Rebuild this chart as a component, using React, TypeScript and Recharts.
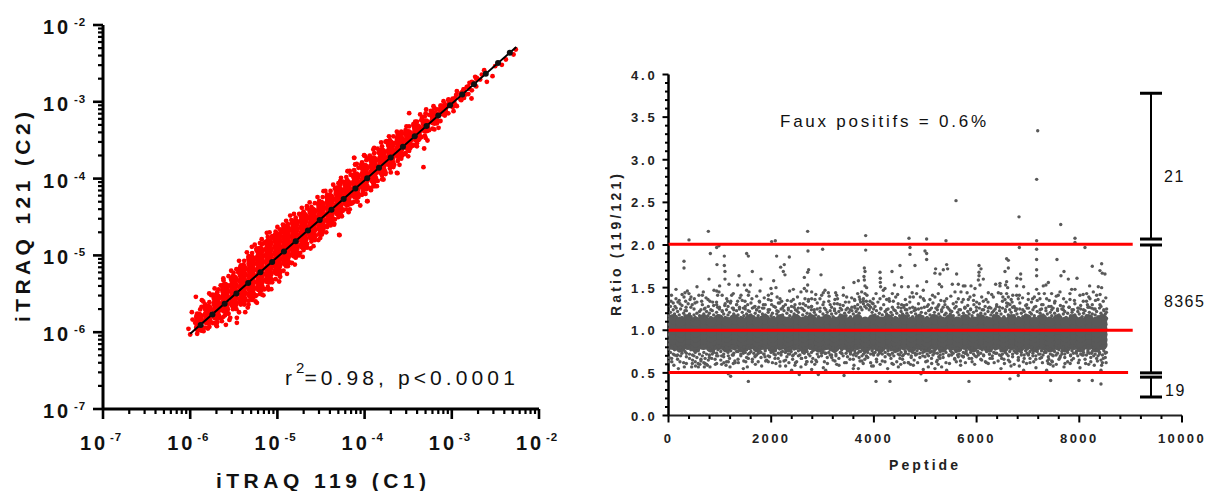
import React from "react";
import { ScatterChart, Scatter, XAxis, YAxis, ReferenceLine } from "recharts";

// ---------- Left panel: log10 intensities ----------
const logMajor = [-7, -6, -5, -4, -3, -2];
const logTicks = [
  1e-7, 2e-7, 3e-7, 4e-7, 5e-7, 6e-7, 7e-7, 8e-7, 9e-7,
  1e-6, 2e-6, 3e-6, 4e-6, 5e-6, 6e-6, 7e-6, 8e-6, 9e-6,
  1e-5, 2e-5, 3e-5, 4e-5, 5e-5, 6e-5, 7e-5, 8e-5, 9e-5,
  1e-4, 2e-4, 3e-4, 4e-4, 5e-4, 6e-4, 7e-4, 8e-4, 9e-4,
  1e-3, 2e-3, 3e-3, 4e-3, 5e-3, 6e-3, 7e-3, 8e-3, 9e-3, 1e-2,
];
const fitX = [-5.88, -5.745, -5.605, -5.47, -5.335, -5.195, -5.06, -4.925, -4.79, -4.65, -4.515, -4.38, -4.24, -4.105, -3.97, -3.835, -3.7, -3.56, -3.425, -3.29, -3.155, -3.02, -2.88, -2.745, -2.61, -2.47, -2.335];
const fitY = [-5.905, -5.77, -5.63, -5.495, -5.36, -5.22, -5.085, -4.95, -4.815, -4.675, -4.54, -4.405, -4.265, -4.13, -3.995, -3.86, -3.725, -3.585, -3.45, -3.315, -3.18, -3.045, -2.905, -2.77, -2.635, -2.495, -2.36];
const fitEnds: [number, number][] = [[-6.0, -6.02], [-2.26, -2.286]];

const denseColumns: [number, number[]][] = [
  [-5.9, [-5.94, -5.86, -5.8]],
  [-5.8, [-5.85, -5.77, -5.69]],
  [-5.7, [-5.79, -5.71, -5.63, -5.55]],
  [-5.6, [-5.7, -5.62, -5.54, -5.46, -5.41]],
  [-5.5, [-5.63, -5.55, -5.47, -5.39, -5.31]],
  [-5.4, [-5.57, -5.49, -5.41, -5.33, -5.25, -5.17]],
  [-5.3, [-5.51, -5.43, -5.35, -5.27, -5.19, -5.11, -5.05]],
  [-5.2, [-5.42, -5.34, -5.26, -5.18, -5.1, -5.02, -4.94]],
  [-5.1, [-5.32, -5.24, -5.16, -5.08, -5.0, -4.92, -4.84]],
  [-5.0, [-5.21, -5.13, -5.05, -4.97, -4.89, -4.81, -4.75]],
  [-4.9, [-5.09, -5.01, -4.93, -4.85, -4.77, -4.69, -4.65]],
  [-4.8, [-4.98, -4.9, -4.82, -4.74, -4.66, -4.58]],
  [-4.7, [-4.87, -4.79, -4.71, -4.63, -4.55, -4.49]],
  [-4.6, [-4.75, -4.67, -4.59, -4.51, -4.43]],
  [-4.5, [-4.64, -4.56, -4.48, -4.4, -4.34]],
  [-4.4, [-4.54, -4.46, -4.38, -4.3, -4.25]],
  [-4.3, [-4.43, -4.35, -4.27, -4.19, -4.15]],
  [-4.2, [-4.31, -4.23, -4.15, -4.07]],
  [-4.1, [-4.21, -4.13, -4.05, -3.97]],
  [-4.0, [-4.1, -4.02, -3.94, -3.86]],
  [-3.9, [-4.0, -3.92, -3.84, -3.76]],
  [-3.8, [-3.9, -3.82, -3.74, -3.66]],
  [-3.7, [-3.8, -3.72, -3.64, -3.56]],
  [-3.6, [-3.69, -3.61, -3.53, -3.48]],
  [-3.5, [-3.58, -3.5, -3.42]],
  [-3.4, [-3.47, -3.4, -3.34]],
  [-3.3, [-3.35, -3.28]],
  [-3.2, [-3.25, -3.18]],
  [-3.1, [-3.13, -3.09]],
  [-3.0, [-3.02]],
];

const edgePoints: [number, number][] = [
  [-5.935, -5.54], [-5.981, -5.739], [-5.973, -5.835], [-6.02, -5.956], [-6.0, -6.03], [-5.866, -5.583], [-5.782, -5.496], [-5.759, -5.518], [-5.675, -5.444], [-5.618, -5.327],
  [-5.503, -5.227], [-5.388, -5.119], [-5.293, -4.888], [-5.178, -4.858], [-5.121, -4.706], [-5.025, -4.728], [-5.847, -5.987], [-5.797, -5.952], [-5.694, -5.921], [-5.591, -5.904],
  [-5.541, -5.813], [-5.465, -5.813], [-5.465, -5.878], [-5.369, -5.739], [-5.331, -5.639], [-5.235, -5.618], [-5.178, -5.509], [-5.102, -5.444], [-4.968, -5.279], [-4.834, -5.097],
  [-4.738, -4.967], [-5.637, -5.856], [-5.713, -5.878], [-5.904, -5.921], [-5.943, -5.878], [-5.427, -5.618], [-5.254, -5.531], [-5.828, -5.639], [-5.885, -5.704], [-4.91, -4.706],
  [-4.937, -4.598], [-4.853, -4.481], [-4.662, -4.359], [-4.471, -4.164], [-4.28, -4.034], [-4.192, -3.904], [-4.108, -3.817], [-4.119, -3.73], [-4.005, -3.7], [-3.89, -3.6],
  [-3.821, -3.643], [-4.288, -4.737], [-4.349, -4.585], [-4.586, -4.88], [-4.49, -4.728], [-4.184, -4.437], [-4.05, -4.35], [-3.966, -4.294], [-3.928, -4.151], [-3.783, -4.012],
  [-3.63, -3.925], [-4.414, -4.576], [-4.509, -4.772], [-4.739, -4.468], [-4.28, -4.077], [-4.089, -4.294], [-3.859, -4.099], [-3.649, -3.535], [-3.745, -3.513],
  [-2.266, -2.319], [-2.292, -2.384], [-2.38, -2.449], [-2.426, -2.519], [-2.503, -2.536], [-2.629, -2.588], [-2.598, -2.74], [-2.533, -2.666], [-2.713, -2.688], [-2.774, -2.957],
  [-2.839, -2.905], [-2.892, -2.979], [-2.797, -2.753], [-2.942, -2.861], [-3.095, -2.992], [-3.489, -3.148], [-3.294, -3.1], [-3.607, -3.426], [-3.317, -3.608], [-3.279, -3.504],
  [-3.325, -3.851], [-3.623, -3.929], [-4.12, -3.73], [-4.005, -3.695], [-4.108, -3.816], [-4.196, -3.903], [-3.879, -4.098], [-3.928, -4.146], [-3.971, -4.294], [-4.292, -4.732],
  [-2.98, -3.122], [-3.057, -3.144], [-3.152, -3.339], [-3.21, -3.057], [-3.363, -3.165], [-2.942, -3.057], [-3.038, -2.97], [-2.866, -2.84], [-2.751, -2.753], [-2.732, -2.675],
  [-2.828, -2.805], [-2.8, -2.83], [-2.655, -2.645], [-2.675, -2.71], [-2.9, -2.92], [-2.96, -2.95], [-2.88, -2.87], [-3.0, -3.0], [-3.05, -3.06], [-3.12, -3.05],
  [-5.58, -5.39], [-5.45, -5.22], [-5.33, -5.03], [-5.24, -4.93], [-5.06, -4.77], [-4.96, -4.7], [-4.78, -4.55], [-4.61, -4.42], [-4.52, -4.34], [-4.42, -4.22],
  [-4.33, -4.12], [-4.2, -4.02], [-4.04, -3.82], [-3.96, -3.74], [-3.84, -3.66], [-3.7, -3.52], [-3.56, -3.41], [-3.44, -3.29], [-3.34, -3.2], [-3.24, -3.12],
  [-5.62, -5.8], [-5.38, -5.62], [-5.28, -5.55], [-5.15, -5.44], [-5.06, -5.32], [-4.9, -5.14], [-4.76, -4.98], [-4.66, -4.85], [-4.56, -4.74], [-4.44, -4.62],
  [-4.36, -4.52], [-4.25, -4.4], [-4.14, -4.32], [-4.02, -4.17], [-3.9, -4.06], [-3.76, -3.92], [-3.66, -3.82], [-3.54, -3.68], [-3.44, -3.56], [-3.36, -3.45],
  [-5.85, -5.6], [-5.72, -5.43], [-5.62, -5.3], [-5.53, -5.2], [-5.44, -5.07], [-5.35, -4.96], [-5.26, -4.86], [-5.18, -4.79], [-5.09, -4.7], [-5.0, -4.63], [-4.9, -4.55], [-4.81, -4.46], [-4.72, -4.38], [-4.63, -4.31], [-4.54, -4.24],
  [-4.45, -4.16], [-4.36, -4.08], [-4.27, -3.99], [-4.17, -3.9], [-4.09, -3.81], [-3.99, -3.71], [-3.9, -3.62], [-3.81, -3.53], [-3.72, -3.45], [-3.63, -3.39], [-3.52, -3.32], [-3.42, -3.26], [-3.3, -3.15], [-3.2, -3.08],
  [-5.7, -5.91], [-5.55, -5.84], [-5.44, -5.74], [-5.34, -5.68], [-5.25, -5.6], [-5.16, -5.52], [-5.07, -5.44], [-4.98, -5.34], [-4.89, -5.24], [-4.8, -5.12], [-4.71, -5.02], [-4.62, -4.91], [-4.53, -4.8], [-4.44, -4.7],
  [-4.35, -4.6], [-4.26, -4.49], [-4.17, -4.4], [-4.08, -4.3], [-3.99, -4.2], [-3.9, -4.1], [-3.8, -4.01], [-3.7, -3.92], [-3.6, -3.82], [-3.5, -3.71], [-3.4, -3.58], [-3.3, -3.47], [-3.2, -3.36],
];

// x, upper edge of the cloud, lower edge of the cloud at that x
const edgeOutline: [number, number, number][] = [
  [-5.92, -5.76, -6.02], [-5.87, -5.67, -5.98], [-5.83, -5.65, -5.94], [-5.78, -5.61, -5.93], [-5.74, -5.51, -5.88], [-5.69, -5.48, -5.87], [-5.65, -5.39, -5.82], [-5.6, -5.37, -5.78],
  [-5.56, -5.27, -5.76], [-5.51, -5.27, -5.7], [-5.47, -5.18, -5.7], [-5.42, -5.13, -5.64], [-5.38, -5.07, -5.64], [-5.33, -5.01, -5.59], [-5.29, -4.97, -5.58], [-5.24, -4.91, -5.52],
  [-5.2, -4.84, -5.5], [-5.15, -4.83, -5.44], [-5.11, -4.76, -5.41], [-5.06, -4.75, -5.35], [-5.02, -4.69, -5.31], [-4.97, -4.66, -5.23], [-4.93, -4.61, -5.2], [-4.88, -4.59, -5.14],
  [-4.84, -4.54, -5.1], [-4.79, -4.51, -5.03], [-4.75, -4.46, -5.0], [-4.7, -4.43, -4.93], [-4.66, -4.39, -4.9], [-4.61, -4.37, -4.82], [-4.57, -4.32, -4.8], [-4.52, -4.29, -4.72],
  [-4.48, -4.24, -4.7], [-4.43, -4.21, -4.63], [-4.39, -4.16, -4.61], [-4.34, -4.13, -4.53], [-4.3, -4.06, -4.5], [-4.25, -4.04, -4.42], [-4.21, -3.98, -4.4], [-4.16, -3.95, -4.33],
  [-4.12, -3.89, -4.3], [-4.07, -3.86, -4.24], [-4.03, -3.79, -4.21], [-3.98, -3.76, -4.14], [-3.94, -3.7, -4.12], [-3.89, -3.67, -4.05], [-3.85, -3.61, -4.03], [-3.8, -3.58, -3.96],
  [-3.76, -3.52, -3.94], [-3.71, -3.5, -3.87], [-3.67, -3.45, -3.85], [-3.62, -3.43, -3.77], [-3.58, -3.39, -3.74], [-3.53, -3.37, -3.67], [-3.49, -3.32, -3.64], [-3.44, -3.31, -3.57],
  [-3.4, -3.26, -3.54], [-3.35, -3.24, -3.46], [-3.31, -3.19, -3.44], [-3.26, -3.17, -3.37], [-3.22, -3.12, -3.35], [-3.17, -3.1, -3.28], [-3.13, -3.05, -3.25], [-3.08, -3.03, -3.18],
  [-3.04, -2.98, -3.15], [-2.99, -2.96, -3.07], [-2.95, -2.91, -3.05], [-2.9, -2.89, -2.97], [-2.86, -2.84, -2.95], [-2.81, -2.8, -2.9], [-2.77, -2.74, -2.85], [-2.72, -2.7, -2.8],
];

// ---------- Right panel: peptide ratios ----------
const ratioMajor = [0, 0.5, 1, 1.5, 2, 2.5, 3, 3.5, 4];
const ratioTicks = [0, 0.1, 0.2, 0.3, 0.4, 0.5, 0.6, 0.7, 0.8, 0.9, 1, 1.1, 1.2, 1.3, 1.4, 1.5, 1.6, 1.7, 1.8, 1.9, 2, 2.1, 2.2, 2.3, 2.4, 2.5, 2.6, 2.7, 2.8, 2.9, 3, 3.1, 3.2, 3.3, 3.4, 3.5, 3.6, 3.7, 3.8, 3.9, 4];
const peptideMajor = [0, 2000, 4000, 6000, 8000, 10000];
const peptideTicks = [0, 400, 800, 1200, 1600, 2000, 2400, 2800, 3200, 3600, 4000, 4400, 4800, 5200, 5600, 6000, 6400, 6800, 7200, 7600, 8000, 8400, 8800, 9200, 9600, 10000];

const ratioColumnsA = [90, 380, 680, 980, 1280, 1580, 1880, 2180, 2480, 2780, 3080, 3380, 3680, 3980, 4280, 4580, 4880, 5180, 5480, 5780, 6080, 6380, 6680, 6980, 7280, 7580, 7880, 8180, 8450];
const ratioColumnsB = [230, 530, 830, 1130, 1430, 1730, 2030, 2330, 2630, 2930, 3230, 3530, 3830, 4130, 4430, 4730, 5030, 5330, 5630, 5930, 6230, 6530, 6830, 7130, 7430, 7730, 8030, 8330];
const ratioRowsA = [0.83, 0.89, 0.95, 1.01, 1.07, 1.13];
const ratioRowsB = [0.8, 0.86, 0.92, 0.98, 1.04, 1.1];

// peptide, lower-fringe ratio, upper-fringe ratio, further outlying ratio
const ratioFringe: [number, number, number, number][] = [
  [12, 0.78, 1.17, 0.68], [38, 0.74, 1.21, 1.28], [65, 0.8, 1.14, 0.63], [92, 0.72, 1.24, 1.32], [118, 0.77, 1.19, 0.71], [151, 0.79, 1.16, 1.26], [177, 0.71, 1.22, 0.66], [209, 0.76, 1.18, 1.35],
  [236, 0.8, 1.25, 0.7], [262, 0.73, 1.15, 1.29], [295, 0.78, 1.2, 0.62], [321, 0.75, 1.17, 1.23], [348, 0.69, 1.23, 0.73], [383, 0.8, 1.14, 1.31], [409, 0.72, 1.19, 0.67], [436, 0.77, 1.16, 1.27],
  [468, 0.65, 1.12, 0.71], [497, 0.7, 1.18, 1.25], [521, 0.63, 1.15, 0.74], [553, 0.68, 1.2, 1.33], [578, 0.61, 1.13, 0.76], [604, 0.72, 1.17, 1.22], [632, 0.66, 1.24, 0.64], [659, 0.7, 1.16, 1.3],
  [688, 0.62, 1.19, 0.74], [713, 0.67, 1.14, 1.26], [741, 0.72, 1.22, 0.6], [769, 0.78, 1.17, 1.36], [796, 0.71, 1.2, 0.68], [824, 0.76, 1.15, 1.24], [853, 0.8, 1.23, 0.72], [880, 0.74, 1.18, 1.29],
  [907, 0.79, 1.14, 0.66], [936, 0.73, 1.21, 1.33], [963, 0.77, 1.17, 0.7], [991, 0.81, 1.25, 1.27], [1018, 0.75, 1.16, 0.65], [1046, 0.79, 1.22, 1.23], [1075, 0.72, 1.19, 0.69], [1104, 0.78, 1.15, 1.31],
  [1131, 0.8, 1.24, 0.63], [1159, 0.74, 1.18, 1.28], [1188, 0.79, 1.21, 0.67], [1213, 0.76, 1.14, 1.34], [1242, 0.81, 1.26, 0.71], [1271, 0.73, 1.19, 1.24], [1297, 0.78, 1.16, 0.62], [1326, 0.8, 1.23, 1.3],
  [1354, 0.75, 1.18, 0.66], [1383, 0.79, 1.27, 1.25], [1409, 0.72, 1.15, 0.7], [1437, 0.78, 1.21, 1.35], [1466, 0.8, 1.17, 0.64], [1494, 0.74, 1.25, 1.28], [1521, 0.77, 1.19, 0.68], [1552, 0.72, 1.14, 1.23],
  [1578, 0.79, 1.22, 0.73], [1606, 0.75, 1.18, 1.32], [1633, 0.81, 1.26, 0.66], [1661, 0.73, 1.16, 1.27], [1689, 0.78, 1.2, 0.7], [1717, 0.71, 1.24, 1.24], [1746, 0.77, 1.17, 0.63], [1774, 0.8, 1.22, 1.33],
  [1802, 0.74, 1.15, 0.68], [1829, 0.79, 1.19, 1.26], [1858, 0.72, 1.26, 0.72], [1884, 0.76, 1.18, 1.3], [1913, 0.8, 1.14, 0.65], [1941, 0.7, 1.21, 1.24], [1969, 0.77, 1.24, 0.69], [1998, 0.74, 1.17, 1.35],
  [2024, 0.79, 1.2, 0.62], [2053, 0.72, 1.15, 1.28], [2081, 0.76, 1.27, 0.71], [2109, 0.8, 1.19, 1.23], [2137, 0.73, 1.22, 0.67], [2166, 0.78, 1.16, 1.32], [2192, 0.71, 1.25, 0.74], [2221, 0.75, 1.18, 1.26],
  [2249, 0.8, 1.23, 0.64], [2277, 0.74, 1.14, 1.3], [2305, 0.77, 1.2, 0.69], [2334, 0.72, 1.26, 1.24], [2362, 0.79, 1.17, 0.72], [2389, 0.75, 1.22, 1.34], [2418, 0.7, 1.15, 0.66], [2446, 0.78, 1.19, 1.27],
  [2473, 0.73, 1.24, 0.62], [2502, 0.8, 1.17, 1.23], [2530, 0.76, 1.21, 0.7], [2558, 0.71, 1.14, 1.31], [2586, 0.78, 1.26, 0.67], [2614, 0.74, 1.18, 1.25], [2643, 0.79, 1.23, 0.73], [2671, 0.68, 1.16, 1.29],
  [2698, 0.75, 1.2, 0.63], [2727, 0.72, 1.27, 1.36], [2755, 0.79, 1.19, 0.7], [2783, 0.74, 1.24, 1.28], [2811, 0.67, 1.15, 0.76], [2839, 0.77, 1.21, 1.24], [2868, 0.8, 1.18, 0.65], [2896, 0.72, 1.25, 1.32],
  [2923, 0.76, 1.16, 0.69], [2951, 0.79, 1.22, 1.26], [2980, 0.7, 1.14, 0.73], [3008, 0.75, 1.19, 1.3], [3036, 0.78, 1.26, 0.63], [3064, 0.73, 1.17, 1.24], [3092, 0.8, 1.21, 0.68], [3121, 0.74, 1.15, 1.34],
  [3148, 0.77, 1.23, 0.71], [3176, 0.71, 1.19, 1.27], [3205, 0.79, 1.16, 0.65], [3233, 0.75, 1.25, 1.23], [3261, 0.72, 1.2, 0.7], [3289, 0.78, 1.14, 1.31], [3318, 0.8, 1.22, 0.67], [3345, 0.74, 1.18, 1.26],
  [3373, 0.77, 1.24, 0.73], [3402, 0.7, 1.15, 1.29], [3430, 0.79, 1.2, 0.62], [3458, 0.73, 1.17, 1.24], [3486, 0.76, 1.26, 0.69], [3514, 0.8, 1.21, 1.33], [3543, 0.74, 1.16, 0.72], [3571, 0.78, 1.23, 1.27],
  [3599, 0.71, 1.19, 0.66], [3627, 0.76, 1.28, 1.35], [3655, 0.79, 1.22, 0.7], [3684, 0.73, 1.25, 1.3], [3712, 0.68, 1.2, 0.75], [3740, 0.75, 1.27, 1.33], [3768, 0.7, 1.24, 0.64], [3796, 0.72, 1.31, 1.37],
  [3824, 0.66, 1.28, 0.74], [3853, 0.7, 1.26, 1.34], [3881, 0.74, 1.3, 0.68], [3909, 0.78, 1.24, 1.29], [3937, 0.72, 1.27, 0.62], [3965, 0.76, 1.21, 1.32], [3994, 0.8, 1.25, 0.71], [4022, 0.74, 1.18, 1.28],
  [4050, 0.77, 1.23, 0.66], [4078, 0.71, 1.16, 1.33], [4106, 0.79, 1.2, 0.73], [4135, 0.75, 1.26, 1.25], [4163, 0.72, 1.18, 0.64], [4191, 0.78, 1.14, 1.3], [4219, 0.74, 1.22, 0.69], [4247, 0.8, 1.19, 1.24],
  [4276, 0.76, 1.25, 0.72], [4304, 0.71, 1.16, 1.34], [4332, 0.77, 1.21, 0.67], [4360, 0.73, 1.18, 1.27], [4388, 0.79, 1.24, 0.7], [4417, 0.75, 1.15, 1.23], [4445, 0.8, 1.2, 0.63], [4473, 0.72, 1.27, 1.31],
  [4501, 0.77, 1.17, 0.71], [4529, 0.74, 1.22, 1.26], [4558, 0.7, 1.19, 0.66], [4586, 0.78, 1.15, 1.29], [4614, 0.75, 1.24, 0.73], [4642, 0.79, 1.2, 1.24], [4671, 0.72, 1.17, 0.62], [4699, 0.76, 1.26, 1.33],
  [4727, 0.68, 1.21, 0.7], [4755, 0.74, 1.16, 1.27], [4783, 0.78, 1.23, 0.65], [4812, 0.71, 1.19, 1.24], [4840, 0.76, 1.14, 0.72], [4868, 0.8, 1.25, 1.31], [4896, 0.73, 1.18, 0.68], [4924, 0.77, 1.21, 1.26],
  [4953, 0.7, 1.16, 0.74], [4981, 0.75, 1.27, 1.35], [5009, 0.79, 1.2, 0.63], [5037, 0.72, 1.15, 1.28], [5065, 0.77, 1.23, 0.7], [5094, 0.74, 1.18, 1.24], [5122, 0.8, 1.26, 0.67], [5150, 0.71, 1.17, 1.32],
  [5178, 0.76, 1.21, 0.73], [5206, 0.78, 1.14, 1.26], [5235, 0.73, 1.24, 0.65], [5263, 0.69, 1.19, 1.3], [5291, 0.75, 1.16, 0.71], [5319, 0.79, 1.22, 1.24], [5348, 0.72, 1.27, 0.68], [5376, 0.77, 1.18, 1.34],
  [5404, 0.74, 1.2, 0.62], [5432, 0.8, 1.15, 1.27], [5460, 0.71, 1.25, 0.7], [5489, 0.76, 1.19, 1.23], [5517, 0.78, 1.22, 0.74], [5545, 0.73, 1.17, 1.31], [5573, 0.67, 1.26, 0.66], [5601, 0.75, 1.14, 1.28],
  [5630, 0.79, 1.21, 0.71], [5658, 0.72, 1.18, 1.24], [5686, 0.77, 1.24, 0.64], [5714, 0.7, 1.16, 1.33], [5742, 0.74, 1.2, 0.69], [5771, 0.8, 1.27, 1.26], [5799, 0.76, 1.15, 0.73], [5827, 0.71, 1.22, 1.29],
  [5855, 0.78, 1.19, 0.67], [5883, 0.74, 1.25, 1.24], [5912, 0.79, 1.17, 0.63], [5940, 0.72, 1.21, 1.35], [5968, 0.77, 1.14, 0.7], [5996, 0.69, 1.23, 1.27], [6024, 0.75, 1.18, 0.74], [6053, 0.8, 1.26, 1.31],
  [6081, 0.73, 1.2, 0.66], [6109, 0.77, 1.16, 1.24], [6137, 0.71, 1.24, 0.7], [6165, 0.78, 1.19, 1.28], [6194, 0.75, 1.15, 0.62], [6222, 0.79, 1.22, 1.33], [6250, 0.72, 1.27, 0.72], [6278, 0.76, 1.18, 1.26],
  [6306, 0.7, 1.21, 0.67], [6335, 0.74, 1.17, 1.23], [6363, 0.78, 1.25, 0.73], [6391, 0.73, 1.2, 1.3], [6419, 0.8, 1.14, 0.64], [6447, 0.71, 1.23, 1.27], [6476, 0.76, 1.19, 0.7], [6504, 0.72, 1.26, 1.34],
  [6532, 0.77, 1.16, 0.66], [6560, 0.74, 1.22, 1.24], [6589, 0.79, 1.28, 0.72], [6617, 0.7, 1.18, 1.31], [6645, 0.75, 1.24, 0.63], [6673, 0.78, 1.21, 1.36], [6701, 0.72, 1.27, 0.69], [6730, 0.76, 1.17, 1.28],
  [6758, 0.8, 1.23, 0.74], [6786, 0.73, 1.19, 1.25], [6814, 0.68, 1.15, 0.65], [6842, 0.77, 1.25, 1.32], [6871, 0.74, 1.2, 0.71], [6899, 0.79, 1.16, 1.24], [6927, 0.71, 1.22, 0.67], [6955, 0.76, 1.18, 1.29],
  [6983, 0.78, 1.26, 0.73], [7012, 0.72, 1.14, 1.26], [7040, 0.75, 1.21, 0.62], [7068, 0.8, 1.19, 1.33], [7096, 0.73, 1.24, 0.7], [7124, 0.77, 1.17, 1.27], [7153, 0.7, 1.28, 0.66], [7181, 0.75, 1.22, 1.35],
  [7209, 0.79, 1.16, 0.72], [7237, 0.72, 1.2, 1.24], [7265, 0.76, 1.25, 0.68], [7294, 0.71, 1.18, 1.3], [7322, 0.78, 1.15, 0.74], [7350, 0.74, 1.23, 1.26], [7378, 0.8, 1.19, 0.64], [7406, 0.66, 1.14, 1.28],
  [7435, 0.72, 1.21, 0.6], [7463, 0.64, 1.17, 1.24], [7491, 0.7, 1.26, 0.58], [7519, 0.75, 1.2, 1.32], [7548, 0.79, 1.16, 0.71], [7576, 0.73, 1.23, 1.25], [7604, 0.77, 1.18, 0.66], [7632, 0.7, 1.14, 1.29],
  [7660, 0.75, 1.25, 0.72], [7689, 0.8, 1.19, 1.24], [7717, 0.72, 1.22, 0.68], [7745, 0.77, 1.15, 1.33], [7773, 0.74, 1.2, 0.63], [7801, 0.78, 1.27, 1.27], [7830, 0.71, 1.17, 0.7], [7858, 0.76, 1.21, 1.24],
  [7886, 0.73, 1.24, 0.67], [7914, 0.79, 1.18, 1.31], [7942, 0.75, 1.14, 0.73], [7971, 0.7, 1.22, 1.26], [7999, 0.77, 1.19, 0.65], [8027, 0.72, 1.25, 1.29], [8055, 0.78, 1.16, 0.71], [8083, 0.74, 1.2, 1.24],
  [8112, 0.8, 1.23, 0.66], [8140, 0.71, 1.17, 1.34], [8168, 0.76, 1.27, 0.74], [8196, 0.73, 1.21, 1.27], [8224, 0.68, 1.15, 0.63], [8253, 0.75, 1.19, 1.3], [8281, 0.79, 1.25, 0.7], [8309, 0.72, 1.18, 1.25],
  [8337, 0.77, 1.22, 0.67], [8365, 0.7, 1.16, 1.36], [8394, 0.74, 1.26, 0.72], [8422, 0.65, 1.2, 1.28], [8450, 0.71, 1.17, 0.62], [8478, 0.76, 1.23, 1.24], [8506, 0.68, 1.19, 0.73], [8528, 0.74, 1.14, 1.21],
];

const ratioUpper: [number, number][] = [
  [7190, 3.34], [7170, 2.77], [5599, 2.52], [6826, 2.33], [7638, 2.24],
  [776, 2.16], [399, 2.06], [2009, 2.04], [2080, 2.05], [2710, 2.16], [938, 1.97], [983, 1.99], [815, 1.9], [1087, 1.87], [1522, 1.9], [1555, 1.87], [2106, 1.87], [2353, 1.86], [2716, 1.93], [302, 1.81],
  [302, 1.73], [944, 1.77], [1087, 1.76], [1100, 1.69], [789, 1.6], [1100, 1.6], [1373, 1.64], [1632, 1.69], [2184, 1.74], [2255, 1.77], [2236, 1.69], [2268, 1.65], [2729, 1.71], [2710, 1.68], [2645, 1.62], [1801, 1.6],
  [2048, 1.58], [1178, 1.54], [1347, 1.53], [1477, 1.53], [1593, 1.53], [996, 1.52], [555, 1.51], [146, 1.48], [367, 1.46], [321, 1.44], [399, 1.43], [678, 1.45], [659, 1.41], [886, 1.47], [938, 1.46], [983, 1.45],
  [957, 1.41], [1522, 1.47], [1567, 1.45], [1555, 1.41], [1782, 1.46], [1996, 1.49], [2093, 1.5], [2359, 1.46], [2431, 1.48], [2580, 1.45], [2645, 1.49], [2690, 1.46], [2788, 1.45], [2710, 1.53], [1717, 1.4], [1262, 1.43],
  [1230, 1.41], [1392, 1.38], [1944, 1.41], [2009, 1.43], [2171, 1.37], [2204, 1.34], [49, 1.34], [146, 1.37], [302, 1.39], [438, 1.39], [334, 1.34], [419, 1.36], [503, 1.37], [224, 1.31], [127, 1.28], [516, 1.32],
  [646, 1.34], [808, 1.34], [776, 1.28], [938, 1.3], [957, 1.27], [698, 1.25], [1133, 1.37], [1152, 1.34], [1347, 1.34], [1327, 1.3], [1490, 1.34], [1542, 1.3], [1769, 1.34], [1944, 1.36], [2009, 1.3], [2139, 1.32],
  [2431, 1.36], [2463, 1.3], [2658, 1.37], [2723, 1.34], [2788, 1.37], [1684, 1.28], [1847, 1.3], [1262, 1.26], [1457, 1.26], [2236, 1.28], [2528, 1.26], [2788, 1.28],
  [3840, 2.11], [4683, 2.08], [5027, 2.07], [5404, 2.05], [3002, 1.95], [3840, 1.94], [4703, 1.97], [4703, 1.89], [4995, 1.93], [5027, 1.9], [5027, 1.83], [3814, 1.73], [3827, 1.69], [3807, 1.63], [4508, 1.76], [4800, 1.76],
  [5417, 1.77], [5352, 1.71], [5436, 1.72], [5202, 1.72], [5189, 1.67], [5287, 1.66], [5611, 1.66], [2970, 1.65], [4119, 1.68], [4352, 1.69], [4125, 1.61], [4540, 1.62], [3697, 1.58], [3612, 1.56], [4125, 1.56], [3814, 1.59],
  [5027, 1.57], [5527, 1.54], [5644, 1.54], [3405, 1.5], [3827, 1.52], [3859, 1.5], [4398, 1.53], [4540, 1.51], [4670, 1.51], [4845, 1.52], [5274, 1.54], [5319, 1.51], [5741, 1.52], [3048, 1.47], [3015, 1.44], [2983, 1.41],
  [3113, 1.44], [3255, 1.44], [3275, 1.41], [3405, 1.41], [3470, 1.39], [3567, 1.38], [3684, 1.43], [3762, 1.45], [3827, 1.43], [4131, 1.51], [4183, 1.47], [4216, 1.49], [4359, 1.43], [4463, 1.42], [4962, 1.47], [4832, 1.43],
  [5254, 1.43], [5189, 1.39], [5579, 1.45], [5696, 1.45], [2853, 1.36], [2950, 1.37], [3242, 1.36], [3229, 1.31], [3340, 1.3], [3534, 1.24], [3632, 1.26], [3729, 1.36], [3794, 1.34], [3924, 1.34], [3989, 1.37], [4119, 1.37],
  [4248, 1.36], [4378, 1.34], [4540, 1.3], [4638, 1.3], [4703, 1.39], [4768, 1.39], [4962, 1.37], [5092, 1.36], [5417, 1.37], [5644, 1.37], [5741, 1.36], [5060, 1.3], [4800, 1.26], [5384, 1.3],
  [7916, 2.08], [7169, 2.05], [7916, 2.03], [6832, 1.97], [8110, 1.97], [7169, 1.95], [6585, 1.84], [6618, 1.82], [7169, 1.83], [7565, 1.83], [6047, 1.76], [6086, 1.72], [6047, 1.68], [6047, 1.64], [8253, 1.75], [8435, 1.78],
  [8402, 1.7], [8448, 1.67], [8500, 1.66], [6618, 1.73], [6553, 1.69], [7169, 1.71], [7169, 1.64], [6858, 1.66], [6786, 1.61], [6858, 1.6], [7643, 1.64], [7702, 1.69], [7786, 1.6], [7955, 1.61], [6034, 1.59], [6131, 1.6],
  [6585, 1.57], [6566, 1.53], [6371, 1.54], [6455, 1.55], [6455, 1.52], [6780, 1.52], [6916, 1.51], [7397, 1.56], [7299, 1.52], [7351, 1.53], [8201, 1.52], [8370, 1.51], [8435, 1.5], [5891, 1.52], [5774, 1.52], [5969, 1.49],
  [6066, 1.53], [6228, 1.44], [7169, 1.48], [6605, 1.5], [6423, 1.44], [6475, 1.43], [6585, 1.43], [6618, 1.39], [6326, 1.39], [7007, 1.43], [6780, 1.41], [6832, 1.41], [7091, 1.37], [7319, 1.43], [7461, 1.43], [7624, 1.45],
  [7591, 1.41], [7851, 1.48], [7916, 1.48], [7818, 1.43], [8013, 1.41], [8143, 1.43], [8273, 1.45], [8338, 1.41], [5871, 1.39], [5839, 1.36], [6001, 1.33], [6099, 1.39], [6131, 1.34], [6553, 1.36], [6585, 1.32], [6650, 1.3],
  [6812, 1.37], [7007, 1.36], [7234, 1.37], [7364, 1.37], [7526, 1.34], [7818, 1.36], [8078, 1.34], [8208, 1.37], [8467, 1.34], [8402, 1.3], [5774, 1.26], [6228, 1.26], [6391, 1.28], [6748, 1.26], [6975, 1.3], [7267, 1.3],
  [7689, 1.28], [7981, 1.26], [8532, 1.25], [8240, 1.26],
  [58, 1.41], [183, 1.33], [265, 1.42], [462, 1.3], [592, 1.41], [731, 1.38], [860, 1.33], [1045, 1.41], [1205, 1.32], [1412, 1.41], [1625, 1.37], [1865, 1.38], [2115, 1.39], [2315, 1.35], [2512, 1.39], [2625, 1.31],
  [2868, 1.42], [3025, 1.33], [3128, 1.4], [3292, 1.37], [3445, 1.33], [3622, 1.36], [3715, 1.39], [3865, 1.41], [4042, 1.43], [4188, 1.4], [4295, 1.37], [4425, 1.39], [4612, 1.36], [4745, 1.44], [4905, 1.39], [5142, 1.41],
  [5305, 1.35], [5498, 1.4], [5605, 1.33], [5815, 1.44], [5948, 1.41], [6185, 1.36], [6294, 1.42], [6512, 1.39], [6705, 1.41], [6895, 1.38], [7125, 1.39], [7212, 1.43], [7415, 1.35], [7552, 1.4], [7695, 1.37], [7905, 1.35],
  [8075, 1.42], [8185, 1.39], [8315, 1.35], [8405, 1.42], [8516, 1.38], [342, 1.27], [1095, 1.29], [1758, 1.27], [2395, 1.28], [3148, 1.3], [3985, 1.31], [4582, 1.27], [5245, 1.28], [5948, 1.3], [6692, 1.33], [7452, 1.28], [8158, 1.3],
];

const ratioLower: [number, number][] = [
  [1555, 0.4], [1210, 0.46], [1165, 0.49], [2547, 0.48], [2788, 0.54], [2580, 0.57], [2398, 0.53], [2171, 0.58], [2281, 0.58], [192, 0.55], [308, 0.57], [451, 0.57], [464, 0.61], [581, 0.57], [711, 0.61], [698, 0.57],
  [808, 0.57], [938, 0.61], [1035, 0.6], [1120, 0.59], [1198, 0.57], [1262, 0.61], [1360, 0.62], [1457, 0.55], [1535, 0.57], [1814, 0.58], [1944, 0.63], [2074, 0.67], [2041, 0.75], [1879, 0.69], [1749, 0.73], [2171, 0.63],
  [2281, 0.65], [2496, 0.63], [2593, 0.67], [2690, 0.63], [2788, 0.63], [2658, 0.75], [2431, 0.71], [938, 0.7], [1035, 0.7], [1165, 0.7], [1262, 0.71], [1327, 0.75], [1457, 0.73], [1555, 0.67], [1632, 0.63], [1684, 0.69],
  [841, 0.67], [873, 0.75], [776, 0.65], [62, 0.67], [159, 0.7], [224, 0.63], [10, 0.63], [1165, 0.63],
  [2918, 0.48], [3418, 0.47], [4041, 0.4], [4313, 0.4], [5014, 0.41], [4917, 0.49], [3015, 0.56], [3061, 0.53], [3599, 0.55], [3697, 0.55], [3320, 0.59], [3956, 0.58], [3989, 0.58], [4268, 0.55], [4378, 0.6], [4476, 0.57],
  [4592, 0.62], [4670, 0.62], [4768, 0.59], [4962, 0.54], [5060, 0.57], [5125, 0.61], [5222, 0.63], [5319, 0.57], [5417, 0.53], [5189, 0.55], [5689, 0.59], [3242, 0.64], [3178, 0.68], [3534, 0.66], [3729, 0.64], [3859, 0.69],
  [3989, 0.73], [4054, 0.63], [4216, 0.63], [4508, 0.67], [4573, 0.71], [4995, 0.69], [5287, 0.67], [5514, 0.71], [5644, 0.69], [5741, 0.69], [2885, 0.63], [3632, 0.73], [3372, 0.73], [3048, 0.73], [4313, 0.71], [4800, 0.73],
  [5125, 0.75], [5384, 0.77],
  [5852, 0.4], [6650, 0.43], [6812, 0.47], [7442, 0.41], [7994, 0.41], [8253, 0.41], [8422, 0.37], [6916, 0.53], [6475, 0.55], [6670, 0.58], [6832, 0.58], [7156, 0.56], [7364, 0.53], [7702, 0.57], [8013, 0.56], [8123, 0.61],
  [8292, 0.59], [8435, 0.59], [8422, 0.53], [7397, 0.61], [7475, 0.63], [7397, 0.69], [7475, 0.71], [6228, 0.61], [6099, 0.65], [6261, 0.67], [6488, 0.67], [6618, 0.65], [6812, 0.65], [7040, 0.67], [7234, 0.67], [7624, 0.68],
  [7851, 0.65], [8078, 0.71], [8240, 0.73], [8467, 0.67], [5904, 0.67], [6034, 0.71], [6910, 0.63], [7007, 0.71], [7721, 0.61], [7332, 0.75], [7494, 0.77], [5774, 0.73],
  [105, 0.59], [348, 0.61], [525, 0.58], [612, 0.6], [758, 0.59], [912, 0.6], [1078, 0.62], [1292, 0.64], [1505, 0.63], [1692, 0.6], [1892, 0.64], [2092, 0.61], [2345, 0.62], [2462, 0.59], [2672, 0.6], [2848, 0.6],
  [3095, 0.61], [3275, 0.6], [3462, 0.62], [3612, 0.59], [3792, 0.61], [4122, 0.6], [4352, 0.61], [4522, 0.6], [4712, 0.6], [4852, 0.62], [5042, 0.64], [5252, 0.6], [5472, 0.61], [5605, 0.63], [5782, 0.62], [5962, 0.6],
  [6172, 0.63], [6342, 0.62], [6542, 0.61], [6732, 0.6], [6972, 0.61], [7112, 0.63], [7282, 0.62], [7552, 0.6], [7822, 0.61], [7982, 0.62], [8182, 0.6], [8352, 0.64], [8522, 0.62],
];

const cutoffLines: [number, number][] = [[2.01, 9040], [1.0, 9040], [0.505, 8950]];
const bracketX = 9396;
const bracketCapX: [number, number] = [9182, 9611];
const bracketSpans: [number, number][] = [[3.78, 2.07], [2.0, 0.5], [0.45, 0.217]];
const bracketCaps = [3.78, 2.07, 2.0, 0.5, 0.45, 0.217];

// ---------- Build rows ----------
const logRow = ([a, b]: [number, number]) => ({ x: 10 ** a, y: 10 ** b });
const xyRow = ([x, y]: [number, number]) => ({ x, y });
const denseRows = denseColumns.flatMap(([a, ys]) => ys.map((b) => logRow([a, b])));
const edgeRows = [
  ...edgePoints.map(logRow),
  ...edgeOutline.flatMap(([a, up, lo]) => [logRow([a, up]), logRow([a, lo])]),
];
const fitRows = fitX.map((a, i) => logRow([a, fitY[i]]));
const fitEndRows = fitEnds.map(logRow);
const ratioDenseRows = [
  ...ratioColumnsA.flatMap((x) => ratioRowsA.map((y) => ({ x, y }))),
  ...ratioColumnsB.flatMap((x) => ratioRowsB.map((y) => ({ x, y }))),
];
const ratioRows = [
  ...ratioUpper.map(xyRow),
  ...ratioLower.map(xyRow),
  ...ratioFringe.flatMap(([x, lo, hi, far]) => [{ x, y: lo }, { x, y: hi }, { x, y: far }]),
];

// ---------- Style ----------
const FONT = "'Liberation Sans', Arial, sans-serif";
const dot = (r: number, fill: string) => (p: any) => <circle cx={p.cx} cy={p.cy} r={r} fill={fill} />;
const noDot = () => <g />;

const exponent = (v: number) => Math.round(Math.log10(v));
const isDecade = (v: number) => Math.abs(Math.log10(v) - exponent(v)) < 1e-6;

const LogXTick = (p: any) => {
  const v = p.payload.value;
  const major = isDecade(v);
  return (
    <g>
      <line x1={p.x} x2={p.x} y1={p.y} y2={p.y + (major ? 10 : 5)} stroke="#000" strokeWidth={major ? 2.6 : 2.2} />
      {major && logMajor.includes(exponent(v)) ? (
        <text x={p.x - 23} y={449.5} fontFamily={FONT} fontWeight={700} fill="#111">
          <tspan fontSize={20} letterSpacing={3}>10</tspan>
          <tspan x={p.x + 7} y={441} fontSize={11.5} letterSpacing={1}>{exponent(v)}</tspan>
        </text>
      ) : null}
    </g>
  );
};

const LogYTick = (p: any) => {
  const v = p.payload.value;
  const major = isDecade(v);
  return (
    <g>
      <line x1={p.x} x2={p.x - (major ? 10 : 5)} y1={p.y} y2={p.y} stroke="#000" strokeWidth={major ? 2.6 : 2.2} />
      {major && logMajor.includes(exponent(v)) ? (
        <text x={p.x - 60} y={p.y + 9} fontFamily={FONT} fontWeight={700} fill="#111">
          <tspan fontSize={20} letterSpacing={3}>10</tspan>
          <tspan x={p.x - 29} y={p.y + 1} fontSize={11.5} letterSpacing={1}>{exponent(v)}</tspan>
        </text>
      ) : null}
    </g>
  );
};

const RatioTick = (p: any) => {
  const v = p.payload.value;
  const major = ratioMajor.includes(v);
  return (
    <g>
      <line x1={p.x} x2={p.x - (major ? 6 : 3.5)} y1={p.y} y2={p.y} stroke="#000" strokeWidth={2} />
      {major ? (
        <text x={p.x - 11} y={p.y + 5} textAnchor="end" fontFamily={FONT} fontWeight={700} fontSize={13} letterSpacing={2.8} fill="#222">
          {v.toFixed(1)}
        </text>
      ) : null}
    </g>
  );
};

const PeptideTick = (p: any) => {
  const v = p.payload.value;
  const major = peptideMajor.includes(v);
  return (
    <g>
      <line x1={p.x} x2={p.x} y1={p.y} y2={p.y + (major ? 7 : 3.5)} stroke="#000" strokeWidth={2} />
      {major ? (
        <text x={p.x} y={442.5} textAnchor="middle" fontFamily={FONT} fontWeight={700} fontSize={13} letterSpacing={2.4} fill="#222">
          {v}
        </text>
      ) : null}
    </g>
  );
};

export default function App() {
  return (
    <div style={{ position: "absolute", left: 0, top: 0, width: 1205, height: 491, background: "#fff", overflow: "hidden" }}>
      <div style={{ position: "absolute", left: 0, top: 0 }}>
        <ScatterChart width={600} height={491} margin={{ top: 25, left: 53, right: 61, bottom: 52 }}>
          <XAxis type="number" dataKey="x" scale="log" domain={[1e-7, 1e-2]} ticks={logTicks} interval={0} height={30} tickSize={0} tickMargin={0} tickLine={false} axisLine={{ stroke: "#000", strokeWidth: 3 }} tick={LogXTick} allowDataOverflow />
          <YAxis type="number" dataKey="y" scale="log" domain={[1e-7, 1e-2]} ticks={logTicks} interval={0} width={50} tickSize={0} tickMargin={0} tickLine={false} axisLine={{ stroke: "#000", strokeWidth: 3 }} tick={LogYTick} allowDataOverflow />
          <Scatter data={denseRows} shape={dot(5, "#ff0000")} isAnimationActive={false} />
          <Scatter data={edgeRows} shape={dot(2.4, "#ff0000")} isAnimationActive={false} />
          <Scatter data={fitEndRows} shape={noDot} line={{ stroke: "#000", strokeWidth: 2 }} isAnimationActive={false} />
          <Scatter data={fitRows} shape={dot(3, "#111")} isAnimationActive={false} />
        </ScatterChart>
      </div>
      <div style={{ position: "absolute", left: 600, top: 0 }}>
        <ScatterChart width={605} height={491} margin={{ top: 74.5, left: 18.5, right: 23, bottom: 45.5 }}>
          <XAxis type="number" dataKey="x" domain={[0, 10000]} ticks={peptideTicks} interval={0} height={30} tickSize={0} tickMargin={0} tickLine={false} axisLine={{ stroke: "#222", strokeWidth: 2 }} tick={PeptideTick} />
          <YAxis type="number" dataKey="y" domain={[0, 4]} ticks={ratioTicks} interval={0} width={50} tickSize={0} tickMargin={0} tickLine={false} axisLine={{ stroke: "#000", strokeWidth: 2.5 }} tick={RatioTick} />
          {bracketSpans.map(([a, b]) => (
            <ReferenceLine key={a} segment={[{ x: bracketX, y: a }, { x: bracketX, y: b }]} stroke="#000" strokeWidth={2} ifOverflow="visible" />
          ))}
          {bracketCaps.map((y) => (
            <ReferenceLine key={y} segment={[{ x: bracketCapX[0], y }, { x: bracketCapX[1], y }]} stroke="#000" strokeWidth={3} ifOverflow="visible" />
          ))}
          <Scatter data={ratioDenseRows} shape={dot(5.2, "#595959")} isAnimationActive={false} />
          <Scatter data={ratioRows} shape={dot(1.7, "#595959")} isAnimationActive={false} />
          {cutoffLines.map(([y, end]) => (
            <Scatter key={y} data={[{ x: 0, y }, { x: end, y }]} shape={noDot} line={{ stroke: "#ff0000", strokeWidth: 3 }} isAnimationActive={false} />
          ))}
        </ScatterChart>
      </div>
      <svg width={1205} height={491} style={{ position: "absolute", left: 0, top: 0, pointerEvents: "none" }}>
        <text x={216} y={487.5} fontFamily={FONT} fontWeight={700} fontSize={21} textLength={210} fill="#111">iTRAQ 119 (C1)</text>
        <text transform="translate(29.5 322) rotate(-90)" fontFamily={FONT} fontWeight={700} fontSize={21} textLength={210} fill="#111">iTRAQ 121 (C2)</text>
        <text x={285} y={385} fontFamily={FONT} fontSize={21} letterSpacing={4.1} fill="#111">
          r<tspan dy={-12} fontSize={15} letterSpacing={0}>2</tspan><tspan dy={12}>=0.98, p&lt;0.0001</tspan>
        </text>
        <text x={780} y={127} fontFamily={FONT} fontSize={17} textLength={206} fill="#111">Faux positifs = 0.6%</text>
        <text transform="translate(620.5 316) rotate(-90)" fontFamily={FONT} fontWeight={700} fontSize={14} textLength={142} fill="#222">Ratio (119/121)</text>
        <text x={889} y={470} fontFamily={FONT} fontWeight={700} fontSize={14} textLength={69} fill="#222">Peptide</text>
        <text x={1164} y={181.5} fontFamily={FONT} fontSize={16} letterSpacing={1.6} fill="#111">21</text>
        <text x={1164} y={306.5} fontFamily={FONT} fontSize={16} letterSpacing={1.4} fill="#111">8365</text>
        <text x={1165} y={396} fontFamily={FONT} fontSize={16} letterSpacing={1.6} fill="#111">19</text>
      </svg>
    </div>
  );
}
